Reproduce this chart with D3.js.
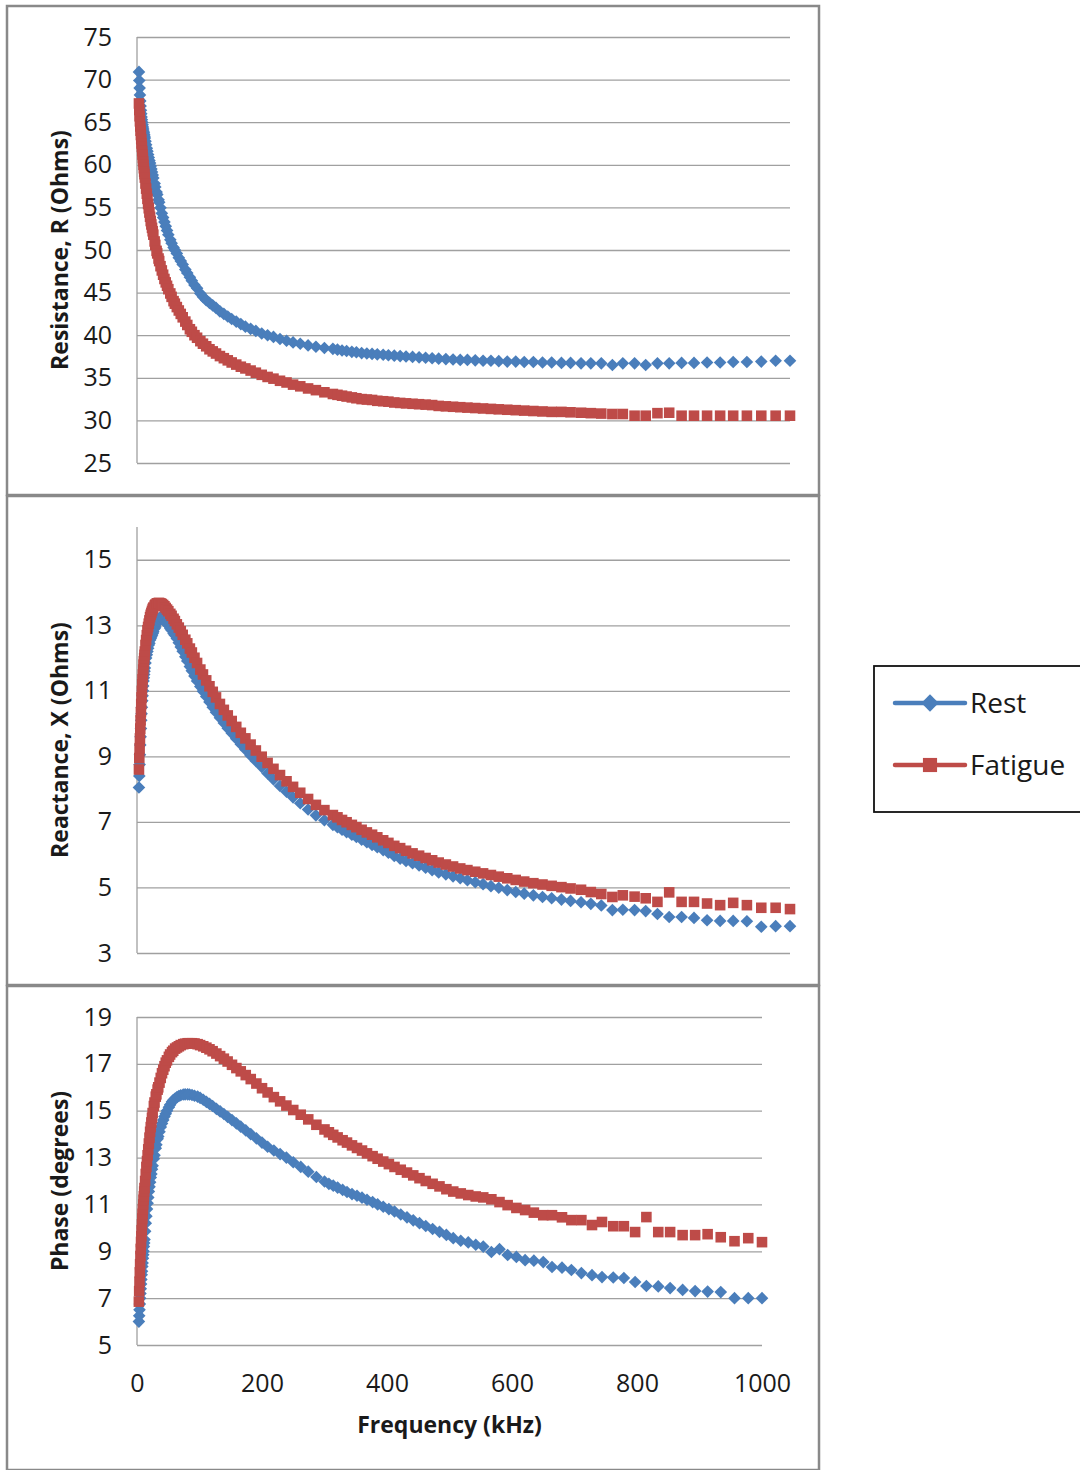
<!DOCTYPE html>
<html>
<head>
<meta charset="utf-8">
<script src="https://d3js.org/d3.v7.min.js"></script>
<style>
  body { margin: 0; background: #fff; }
  text { font-family: "Open Sans", sans-serif; fill: #1a1a1a; }
</style>
</head>
<body>
<script>
// Frequencies (kHz) of the plotted measurements
var freqKHz = [
  3, 3.5, 4, 4.5, 5, 5.5, 6, 6.5, 7, 7.5, 8, 8.5, 9, 9.5, 10, 10.5, 11, 11.5, 12, 13, 14, 15, 16, 17, 18, 19, 20,
  21, 22, 23, 24, 25, 27, 28, 30, 31, 33, 34, 36, 38, 40, 42, 44, 46, 48, 51, 53, 56, 58, 61, 64, 67,
  70, 74, 77, 81, 84, 88, 92, 97, 101, 106, 111, 116, 121, 127, 133, 139, 145, 152, 159, 166,
  174, 182, 191, 200, 209, 219, 229, 239, 250, 262, 274, 287,
  300, 307, 314, 321, 329, 336, 344, 352, 360, 368, 377, 385, 394, 403, 412, 422, 432, 442, 452, 462,
  473, 484, 495, 506, 518, 530, 542, 554, 567, 580, 593, 607, 621, 635, 650, 664, 680, 695, 711, 728,
  744, 762, 779, 797, 815, 834, 853, 873, 893, 913, 934, 956, 978, 1000
];

// Resistance R (Ohms)
var restResistance = [
  70.9, 69.9, 69.0, 68.2, 67.5, 66.9, 66.4, 66.0, 65.6, 65.3, 65.0, 64.7, 64.45, 64.2, 63.95, 63.75, 63.55, 63.35, 63.15, 62.75, 62.35, 61.95, 61.6, 61.2, 60.85, 60.5, 60.2,
  59.85, 59.5, 59.15, 58.8, 58.45, 57.8, 57.4, 56.8, 56.5, 55.9, 55.6, 54.95, 54.3, 53.8, 53.3, 52.8, 52.3, 51.8, 51.2, 50.8, 50.3, 50.0, 49.6, 49.1, 48.7,
  48.3, 47.7, 47.3, 46.8, 46.4, 45.9, 45.5, 44.9, 44.5, 44.1, 43.8, 43.5, 43.2, 42.8, 42.5, 42.2, 41.9, 41.6, 41.3, 41.0,
  40.75, 40.5, 40.2, 40.0, 39.8, 39.55, 39.35, 39.15, 39.0, 38.8, 38.65, 38.5,
  38.4, 38.3, 38.2, 38.15, 38.05, 38.0, 37.9, 37.85, 37.8, 37.75, 37.7, 37.65, 37.6, 37.55, 37.5, 37.45, 37.4, 37.35, 37.3, 37.25,
  37.2, 37.15, 37.1, 37.1, 37.05, 37.0, 37.0, 36.95, 36.9, 36.9, 36.85, 36.85, 36.8, 36.8, 36.75, 36.75, 36.7, 36.7, 36.7, 36.5,
  36.7, 36.7, 36.5, 36.7, 36.7, 36.75, 36.75, 36.8, 36.8, 36.85, 36.85, 36.9, 37.0, 37.0
];
var fatigueResistance = [
  67.2, 66.4, 65.7, 65.1, 64.5, 64.0, 63.5, 63.0, 62.5, 62.1, 61.6, 61.2, 60.8, 60.4, 60.0, 59.6, 59.2, 58.9, 58.5, 57.8, 57.2, 56.6, 56.0, 55.4, 54.9, 54.4, 53.9,
  53.4, 53.0, 52.6, 52.2, 51.8, 51.0, 50.6, 49.9, 49.6, 49.0, 48.7, 48.1, 47.6, 47.1, 46.6, 46.2, 45.8, 45.4, 44.9, 44.5, 44.0, 43.7, 43.3, 42.9, 42.5,
  42.1, 41.6, 41.2, 40.7, 40.4, 40.0, 39.7, 39.3, 39.0, 38.7, 38.35, 38.1, 37.85, 37.55, 37.3, 37.05, 36.8, 36.55, 36.3, 36.1,
  35.85, 35.6, 35.35, 35.1, 34.9, 34.65, 34.45, 34.2, 34.0, 33.75, 33.55, 33.3,
  33.1, 33.0, 32.9, 32.8, 32.7, 32.6, 32.5, 32.45, 32.4, 32.3, 32.25, 32.2, 32.1, 32.05, 32.0, 31.95, 31.9, 31.85, 31.8, 31.7,
  31.65, 31.6, 31.55, 31.5, 31.45, 31.4, 31.35, 31.3, 31.25, 31.2, 31.15, 31.1, 31.05, 31.0, 31.0, 30.95, 30.9, 30.85, 30.8, 30.75,
  30.75, 30.55, 30.55, 30.85, 30.9, 30.55, 30.55, 30.55, 30.55, 30.55, 30.55, 30.55, 30.55, 30.55
];

// Reactance X (Ohms)
var restReactance = [
  8.05, 8.4, 8.75, 9.05, 9.35, 9.6, 9.85, 10.1, 10.3, 10.5, 10.7, 10.85, 11.0, 11.15, 11.3, 11.4, 11.5, 11.6, 11.7, 11.85, 12.0, 12.1, 12.2, 12.3, 12.4, 12.45, 12.55,
  12.6, 12.65, 12.7, 12.75, 12.8, 12.9, 12.95, 13.05, 13.1, 13.15, 13.2, 13.25, 13.25, 13.2, 13.15, 13.1, 13.05, 13.0, 12.9, 12.85, 12.75, 12.7, 12.6, 12.47, 12.34,
  12.21, 12.04, 11.91, 11.74, 11.61, 11.45, 11.3, 11.13, 10.99, 10.83, 10.66, 10.5, 10.35, 10.18, 10.02, 9.86, 9.71, 9.54, 9.37, 9.21,
  9.03, 8.86, 8.68, 8.48, 8.3, 8.1, 7.92, 7.75, 7.57, 7.38, 7.2, 7.05,
  6.91, 6.84, 6.76, 6.69, 6.61, 6.54, 6.46, 6.38, 6.3, 6.23, 6.14, 6.06, 5.96, 5.88, 5.81, 5.74, 5.67, 5.6, 5.53, 5.46,
  5.4, 5.34, 5.28, 5.22, 5.16, 5.1, 5.04, 4.99, 4.92, 4.86, 4.81, 4.76, 4.71, 4.67, 4.63, 4.59, 4.55, 4.5, 4.45, 4.31,
  4.32, 4.31, 4.28, 4.19, 4.1, 4.1, 4.07, 4.0, 3.98, 3.98, 3.97, 3.8, 3.82, 3.82
];
var fatigueReactance = [
  8.6, 8.95, 9.25, 9.55, 9.85, 10.1, 10.35, 10.6, 10.8, 11.0, 11.2, 11.35, 11.5, 11.65, 11.8, 11.9, 12.0, 12.1, 12.2, 12.4, 12.55, 12.7, 12.85, 12.95, 13.05, 13.15, 13.25,
  13.32, 13.38, 13.44, 13.5, 13.54, 13.6, 13.63, 13.66, 13.67, 13.68, 13.68, 13.67, 13.65, 13.62, 13.58, 13.53, 13.48, 13.43, 13.35, 13.29, 13.2, 13.13, 13.03, 12.93, 12.82,
  12.71, 12.56, 12.45, 12.29, 12.17, 12.01, 11.85, 11.65, 11.5, 11.32, 11.14, 10.97, 10.8, 10.6, 10.42, 10.25, 10.08, 9.9, 9.72, 9.55,
  9.36, 9.18, 8.99, 8.8, 8.62, 8.43, 8.24, 8.07, 7.89, 7.7, 7.52, 7.36,
  7.21, 7.14, 7.06, 6.99, 6.91, 6.84, 6.76, 6.68, 6.61, 6.53, 6.44, 6.36, 6.27, 6.2, 6.12, 6.04, 5.97, 5.9, 5.83, 5.76,
  5.7, 5.64, 5.58, 5.53, 5.48, 5.43, 5.38, 5.33, 5.28, 5.23, 5.18, 5.13, 5.09, 5.05, 5.01, 4.97, 4.93, 4.86, 4.8, 4.71,
  4.76, 4.72, 4.67, 4.56, 4.85, 4.56, 4.56, 4.51, 4.46, 4.53, 4.46, 4.38, 4.38, 4.34
];

// Phase (degrees)
var restPhase = [
  6.0, 6.25, 6.5, 6.75, 7.0, 7.2, 7.4, 7.6, 7.8, 8.0, 8.15, 8.35, 8.5, 8.7, 8.85, 9.0, 9.2, 9.35, 9.5, 9.85, 10.2, 10.5, 10.8, 11.05, 11.3, 11.55, 11.75,
  11.95, 12.15, 12.3, 12.5, 12.65, 12.95, 13.1, 13.4, 13.55, 13.8, 13.9, 14.1, 14.3, 14.45, 14.6, 14.75, 14.87, 15.0, 15.15, 15.25, 15.38, 15.45, 15.52, 15.58, 15.63,
  15.66, 15.69, 15.7, 15.7, 15.69, 15.67, 15.64, 15.6, 15.55, 15.47, 15.38, 15.29, 15.2, 15.08, 14.97, 14.86, 14.74, 14.6, 14.46, 14.32,
  14.16, 14.0, 13.82, 13.64, 13.46, 13.3, 13.15, 13.0, 12.8, 12.6, 12.4, 12.17,
  11.98, 11.88, 11.8, 11.72, 11.62, 11.53, 11.44, 11.37, 11.29, 11.2, 11.1, 11.0, 10.9, 10.8, 10.7, 10.57, 10.45, 10.32, 10.2, 10.08,
  9.95, 9.83, 9.7, 9.56, 9.45, 9.38, 9.28, 9.2, 8.97, 9.09, 8.84, 8.76, 8.62, 8.6, 8.54, 8.33, 8.3, 8.2, 8.07, 7.98,
  7.9, 7.88, 7.86, 7.69, 7.52, 7.5, 7.43, 7.35, 7.3, 7.28, 7.26, 7.0, 7.0, 7.0
];
var fatiguePhase = [
  6.85, 7.3, 7.7, 8.1, 8.45, 8.8, 9.1, 9.4, 9.65, 9.9, 10.15, 10.4, 10.6, 10.8, 11.0, 11.2, 11.35, 11.55, 11.7, 12.0, 12.3, 12.6, 12.85, 13.1, 13.35, 13.6, 13.85,
  14.1, 14.3, 14.5, 14.7, 14.9, 15.2, 15.35, 15.6, 15.7, 15.9, 16.0, 16.2, 16.4, 16.6, 16.75, 16.9, 17.05, 17.15, 17.3, 17.4, 17.5, 17.56, 17.65, 17.7, 17.75,
  17.8, 17.84, 17.86, 17.88, 17.88, 17.88, 17.87, 17.84, 17.8, 17.75, 17.69, 17.62, 17.54, 17.44, 17.33, 17.22, 17.1, 16.96, 16.82, 16.68,
  16.52, 16.35, 16.16, 15.96, 15.78, 15.58, 15.4, 15.22, 15.03, 14.83, 14.63, 14.4,
  14.2, 14.08, 13.97, 13.86, 13.74, 13.64, 13.52, 13.41, 13.3, 13.18, 13.06, 12.95, 12.83, 12.72, 12.6, 12.48, 12.36, 12.24, 12.12, 12.0,
  11.88, 11.77, 11.65, 11.55, 11.47, 11.4, 11.34, 11.3, 11.22, 11.1, 10.97, 10.85, 10.76, 10.65, 10.54, 10.54, 10.45, 10.33, 10.33, 10.12,
  10.25, 10.07, 10.07, 9.82, 10.46, 9.82, 9.82, 9.69, 9.69, 9.73, 9.6, 9.43, 9.56, 9.39
];

// Tick labels
var resistanceTicks = [25, 30, 35, 40, 45, 50, 55, 60, 65, 70, 75];
var reactanceTicks = [3, 5, 7, 9, 11, 13, 15];
var phaseTicks = [5, 7, 9, 11, 13, 15, 17, 19];
var freqTicks = [0, 200, 400, 600, 800, 1000];
var seriesNames = ["Rest", "Fatigue"];

var blue = "#4a7ebb";
var red = "#be4b48";
var frameGrey = "#898989";
var gridGrey = "#a0a0a0";

var svgWidth = 1080;
var svgHeight = 1470;

var svg = d3.select("body")
  .append("svg")
  .attr("width", svgWidth)
  .attr("height", svgHeight);

// one entry per stacked chart
var panels = [
  { top: 5, bottom: 495, plotTop: 37, plotBottom: 463, plotRight: 790,
    domain: [25, 75], ticks: resistanceTicks, title: "Resistance, R (Ohms)",
    rest: restResistance, fatigue: fatigueResistance, xLabels: false },
  { top: 495, bottom: 985, plotTop: 527, plotBottom: 953, plotRight: 790,
    domain: [3, 16], ticks: reactanceTicks, title: "Reactance, X (Ohms)",
    rest: restReactance, fatigue: fatigueReactance, xLabels: false },
  { top: 985, bottom: 1470, plotTop: 1017, plotBottom: 1345, plotRight: 762,
    domain: [5, 19], ticks: phaseTicks, title: "Phase (degrees)",
    rest: restPhase, fatigue: fatiguePhase, xLabels: true }
];

var plotLeft = 137;

var diamond = d3.symbol().type(d3.symbolSquare).size(80);
var square = d3.symbol().type(d3.symbolSquare).size(112);

panels.forEach(function(p) {

  var xScale = d3.scaleLinear()
    .domain([0, 1000])
    .range([plotLeft, p.plotRight]);

  var yScale = d3.scaleLinear()
    .domain(p.domain)
    .range([p.plotBottom, p.plotTop]);

  // gridlines + tick labels
  var leftAxis = d3.axisLeft(yScale)
    .tickValues(p.ticks)
    .tickSize(-(p.plotRight - plotLeft))
    .tickPadding(25)
    .tickFormat(d3.format("d"));

  var yAxis = svg.append("g")
    .attr("transform", `translate(${plotLeft}, 0)`)
    .call(leftAxis);

  yAxis.select(".domain").remove();
  yAxis.selectAll(".tick line")
    .attr("stroke", gridGrey)
    .attr("stroke-width", 1.3);
  yAxis.selectAll(".tick text")
    .attr("font-size", 25)
    .attr("fill", "#1a1a1a");

  // vertical axis line
  svg.append("line")
    .attr("x1", plotLeft)
    .attr("x2", plotLeft)
    .attr("y1", p.plotTop)
    .attr("y2", p.plotBottom)
    .attr("stroke", gridGrey)
    .attr("stroke-width", 1.3);

  if (p.xLabels) {
    var bottomAxis = d3.axisBottom(xScale)
      .tickValues(freqTicks)
      .tickSize(0)
      .tickPadding(29)
      .tickFormat(d3.format("d"));

    var xAxis = svg.append("g")
      .attr("transform", `translate(0, ${p.plotBottom})`)
      .call(bottomAxis);
    xAxis.select(".domain").remove();
    xAxis.selectAll(".tick text")
      .attr("font-size", 25)
      .attr("fill", "#1a1a1a");

    svg.append("text")
      .attr("x", (plotLeft + p.plotRight) / 2)
      .attr("y", 1433)
      .attr("text-anchor", "middle")
      .attr("font-size", 23)
      .attr("font-weight", "bold")
      .text("Frequency (kHz)");
  }

  // y axis title
  svg.append("text")
    .attr("transform", `translate(68, ${(p.plotTop + p.plotBottom) / 2}) rotate(-90)`)
    .attr("text-anchor", "middle")
    .attr("font-size", 23)
    .attr("font-weight", "bold")
    .text(p.title);

  // Rest series (diamonds)
  svg.append("g")
    .selectAll("path")
    .data(freqKHz)
    .enter()
    .append("path")
    .attr("d", diamond)
    .attr("fill", blue)
    .attr("transform", (f, i) => `translate(${xScale(f)}, ${yScale(p.rest[i])}) rotate(45)`);

  // Fatigue series (squares)
  svg.append("g")
    .selectAll("path")
    .data(freqKHz)
    .enter()
    .append("path")
    .attr("d", square)
    .attr("fill", red)
    .attr("transform", (f, i) => `translate(${xScale(f)}, ${yScale(p.fatigue[i])})`);

  // chart frame
  svg.append("rect")
    .attr("x", 7)
    .attr("y", p.top + 1)
    .attr("width", 812)
    .attr("height", p.bottom - p.top - 1)
    .attr("fill", "none")
    .attr("stroke", frameGrey)
    .attr("stroke-width", 2.5);
});

// Legend
var legend = svg.append("g");

legend.append("rect")
  .attr("x", 874)
  .attr("y", 666)
  .attr("width", 210)
  .attr("height", 146)
  .attr("fill", "#fff")
  .attr("stroke", "#111")
  .attr("stroke-width", 1.8);

var legendY = d3.scalePoint()
  .domain(seriesNames)
  .range([703, 765]);

seriesNames.forEach(function(name, i) {
  var c = i === 0 ? blue : red;
  var y = legendY(name);
  legend.append("line")
    .attr("x1", 895)
    .attr("x2", 965)
    .attr("y1", y)
    .attr("y2", y)
    .attr("stroke", c)
    .attr("stroke-width", 4.5)
    .attr("stroke-linecap", "round");
  legend.append("path")
    .attr("d", i === 0 ? d3.symbol().type(d3.symbolSquare).size(150)() : d3.symbol().type(d3.symbolSquare).size(200)())
    .attr("fill", c)
    .attr("transform", `translate(930, ${y})` + (i === 0 ? " rotate(45)" : ""));
  legend.append("text")
    .attr("x", 970)
    .attr("y", y)
    .attr("dy", "0.35em")
    .attr("font-size", 28)
    .text(name);
});
</script>
</body>
</html>
